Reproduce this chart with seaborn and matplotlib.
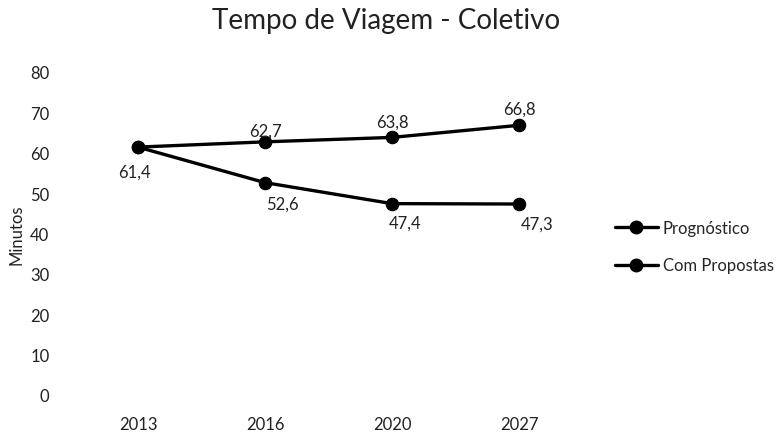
import matplotlib
matplotlib.use("Agg")
import matplotlib.pyplot as plt
import seaborn as sns
import pandas as pd
from matplotlib.lines import Line2D

# Data
anos = ["2013", "2016", "2020", "2027"]
prognostico = [61.4, 62.7, 63.8, 66.8]
com_propostas = [61.4, 52.6, 47.4, 47.3]
series_nomes = ["Prognóstico", "Com Propostas"]
y_ticks = [0, 10, 20, 30, 40, 50, 60, 70, 80]

sns.set_theme(style="white")
plt.rcParams["font.family"] = ["Lato", "DejaVu Sans"]

df = pd.DataFrame({
    "Ano": anos * 2,
    "Minutos": prognostico + com_propostas,
    "Série": [series_nomes[0]] * len(anos) + [series_nomes[1]] * len(anos),
})

fig = plt.figure(figsize=(7.84, 4.35), dpi=100)
ax = fig.add_axes([74.5 / 784, 1 - 396 / 435, 508 / 784, 323 / 435])

sns.lineplot(data=df, x="Ano", y="Minutos", hue="Série",
             palette=["black", "black"], marker="o", markersize=9,
             linewidth=2.4, markeredgecolor="black", ax=ax, legend=False,
             sort=False)

ax.set_xlim(-0.5, len(anos) - 0.5)
ax.set_ylim(0, 80)
ax.set_yticks(y_ticks)
ax.set_yticklabels([str(t) for t in y_ticks], fontsize=12, color="#222222")
ax.tick_params(axis="x", pad=15, labelsize=12, colors="#222222", length=0)
ax.tick_params(axis="y", pad=18, length=0)
for s in ax.spines.values():
    s.set_visible(False)
ax.set_xlabel("")
ax.set_ylabel("Minutos", fontsize=12, color="#222222", labelpad=4)

# Data labels
def fmt(v):
    return f"{v:.1f}".replace(".", ",")

offsets_p = [None, 11, 16, 17]
for i, v in enumerate(prognostico):
    if offsets_p[i] is None:
        continue
    ax.annotate(fmt(v), (i, v), xytext=(0, offsets_p[i]), textcoords="offset pixels",
                ha="center", va="center", fontsize=12, color="#222222")
offsets_c = [(-4, -25), (17, -21), (13, -19), (18, -20)]
for i, v in enumerate(com_propostas):
    dx, dy = offsets_c[i]
    ax.annotate(fmt(v), (i, v), xytext=(dx, dy), textcoords="offset pixels",
                ha="center", va="center", fontsize=12, color="#222222")

# Legend
handles = [Line2D([0], [0], color="black", lw=2.4, marker="o", markersize=9)
           for _ in series_nomes]
fig.legend(handles, series_nomes, loc="upper left",
           bbox_to_anchor=(608 / 784, 1 - 214 / 435), frameon=False,
           fontsize=12, handlelength=2.6, handletextpad=0.3,
           labelspacing=1.3, borderaxespad=0)

fig.suptitle("Tempo de Viagem - Coletivo", x=386 / 784, y=1 - 21 / 435,
             va="center", fontsize=20, color="#222222")

fig.savefig("out.png", dpi=100, facecolor="white")
